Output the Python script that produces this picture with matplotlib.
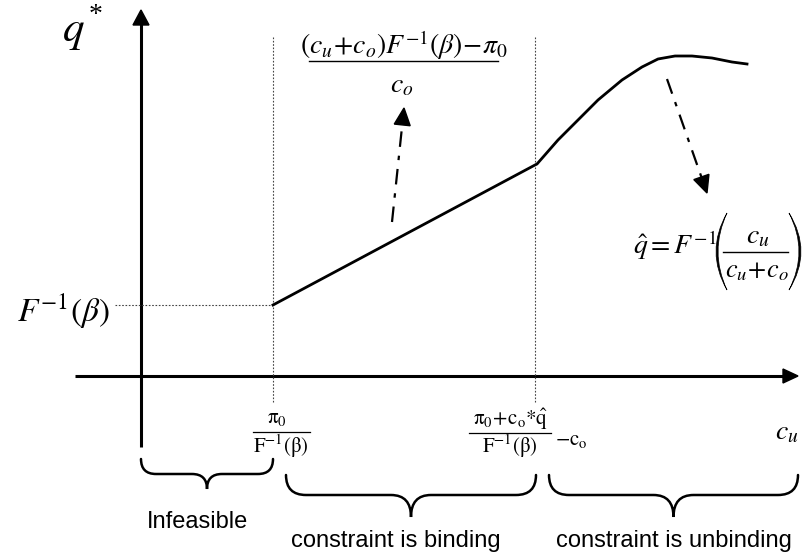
import matplotlib
matplotlib.use("Agg")
import matplotlib.pyplot as plt
import numpy as np
from matplotlib.path import Path
from matplotlib.patches import PathPatch, Polygon

plt.rcParams['mathtext.fontset'] = 'stix'
plt.rcParams['font.family'] = ['Liberation Serif', 'DejaVu Serif']

# ---- schematic data (origin at axes intersection, units = pixels) ----
# optimal q* as function of c_u
curve_x = [132, 394, 396, 417, 437, 457, 481, 501, 517, 534, 551, 571, 591, 606]
curve_y = [71, 211, 212, 236, 256, 276, 296, 309, 317, 320, 320, 318, 314, 312]
# thresholds on the c_u axis
threshold_x = [132, 394]
finv_beta = 71
# annotation arrows (start, tip)
arrow_starts = [(251, 154), (526, 297)]
arrow_tips = [(263, 268), (566, 183)]
# regions (left, right) for braces
regions = [(0, 132), (145, 395), (408, 657)]
region_labels = ["Infeasible", "constraint is binding", "constraint is unbinding"]

fig = plt.figure(figsize=(8.04, 5.56), dpi=100)
ax = fig.add_axes([0, 0, 1, 1])
ax.set_xlim(-141, 663)
ax.set_ylim(-180, 376)
ax.axis('off')

# axes
ax.plot([0, 0], [-71, 352], color='black', lw=2.2, solid_capstyle='butt')
ax.add_patch(Polygon([(-8, 351), (8, 351), (0, 366)], closed=True, color='black'))
ax.plot([-66, 643], [0, 0], color='black', lw=2.2, solid_capstyle='butt')
ax.add_patch(Polygon([(642, 7), (642, -7), (657, 0)], closed=True, color='black'))

# dotted guide lines
for tx in threshold_x:
    ax.plot([tx, tx], [-26, 339], color='#444444', lw=0.8, ls=(0, (1.5, 1.5)))
ax.plot([-26, threshold_x[0]], [finv_beta, finv_beta], color='#444444', lw=0.8,
        ls=(0, (1.5, 1.5)))

# main curve
ax.plot(curve_x, curve_y, color='black', lw=2.0, solid_joinstyle='round')

# dash-dot arrows
for (sx, sy), (tx, ty) in zip(arrow_starts, arrow_tips):
    d = np.array([tx - sx, ty - sy], dtype=float)
    L = np.hypot(*d)
    u = d / L
    n = np.array([-u[1], u[0]])
    hl, hw = 17, 8
    base = np.array([tx, ty]) - u * hl
    ax.plot([sx, base[0]], [sy, base[1]], color='black', lw=1.6,
            ls=(0, (7, 4, 2, 4)))
    ax.add_patch(Polygon([base + n * hw, base - n * hw, (tx, ty)], closed=True,
                         color='black'))

# braces
def brace(xl, xr, ytop, ymid, ytip, r=18):
    xc = (xl + xr) / 2
    verts = [(xl, ytop), (xl, ymid), (xl + r, ymid),
             (xc - r, ymid), (xc, ymid), (xc, ytip),
             (xc, ymid), (xc + r, ymid),
             (xr - r, ymid), (xr, ymid), (xr, ytop)]
    codes = [Path.MOVETO, Path.CURVE3, Path.CURVE3,
             Path.LINETO, Path.CURVE3, Path.CURVE3,
             Path.CURVE3, Path.CURVE3,
             Path.LINETO, Path.CURVE3, Path.CURVE3]
    ax.add_patch(PathPatch(Path(verts, codes), fill=False, lw=1.8,
                           edgecolor='black', capstyle='round'))

brace(regions[0][0], regions[0][1], -83, -98, -113, r=15)
brace(regions[1][0], regions[1][1], -99, -119, -141, r=20)
brace(regions[2][0], regions[2][1], -99, -119, -141, r=20)

label_pos = [(57, -146), (255, -165), (533, -165)]
for (lx, ly), lab in zip(label_pos, region_labels):
    ax.text(lx, ly, lab, family='Liberation Sans', fontsize=17,
            ha='center', va='center')

# axis labels
ax.text(-68, 343, r'$q$', fontsize=31, ha='center', va='center')
ax.text(-45, 360, '*', fontsize=20, ha='center', va='center')
ax.text(646, -57, r'$c_u$', fontsize=20, ha='center', va='center')
ax.text(-31, 65, r'$F^{-1}(\beta)$', fontsize=24, ha='right', va='center')

# top formula
ax.text(263, 331, r'$(c_u\!+\!c_o)F^{-1}(\beta)\!-\!\pi_0$', fontsize=20,
        ha='center', va='center')
ax.plot([168, 357], [315, 315], color='black', lw=1.0)
ax.text(261, 290, r'$c_o$', fontsize=20, ha='center', va='center')

# q hat formula (built by hand)
ax.text(576, 131, r'$\hat{q}=F^{-1}$', fontsize=20, ha='right', va='center')

def paren(x_end, x_out, x_in, y_top, y_bot):
    ym = (y_top + y_bot) / 2
    c_out = 2 * x_out - x_end
    c_in = 2 * x_in - x_end
    verts = [(x_end, y_top), (c_out, ym), (x_end, y_bot),
             (c_in, ym), (x_end, y_top), (x_end, y_top)]
    codes = [Path.MOVETO, Path.CURVE3, Path.CURVE3,
             Path.CURVE3, Path.CURVE3, Path.CLOSEPOLY]
    ax.add_patch(PathPatch(Path(verts, codes), facecolor='black',
                           edgecolor='black', lw=0.5))

paren(586, 575, 577, 163, 86)
paren(648, 660, 658, 163, 86)
ax.text(617, 139, r'$c_u$', fontsize=20, ha='center', va='center')
ax.plot([582, 647], [124, 124], color='black', lw=1.0)
ax.text(616, 104, r'$c_u\!+\!c_o$', fontsize=19, ha='center', va='center')

# bottom tick formulas
ax.text(136, -42, r'$\mathrm{\pi_0}$', fontsize=15, ha='center', va='center')
ax.plot([112, 169], [-56, -56], color='black', lw=0.9)
ax.text(140, -70, r'$\mathrm{F^{-1}(\beta)}$', fontsize=15, ha='center', va='center')

ax.text(369, -43, r'$\mathrm{\pi_0\!+\!c_o{*}\hat{q}}$', fontsize=15,
        ha='center', va='center')
ax.plot([328, 410], [-57, -57], color='black', lw=0.9)
ax.text(369, -70, r'$\mathrm{F^{-1}(\beta)}$', fontsize=15, ha='center', va='center')
ax.text(414, -64, r'$\mathrm{-c_o}$', fontsize=15, ha='left', va='center')

fig.savefig('out.png', dpi=100)
